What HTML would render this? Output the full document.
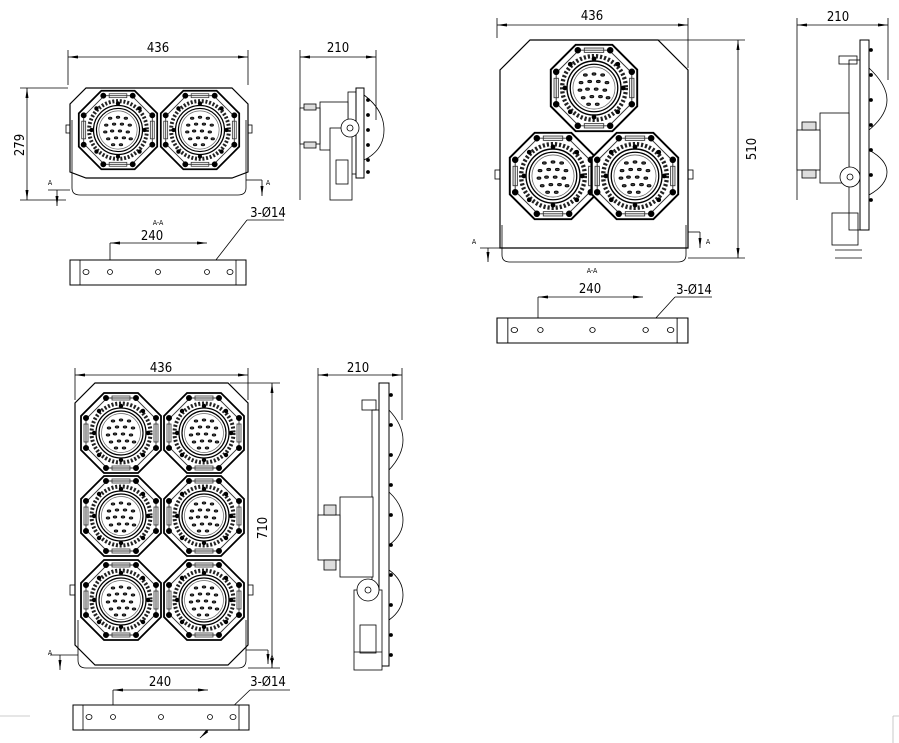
<!DOCTYPE html>
<html><head><meta charset="utf-8"><style>
html,body{margin:0;padding:0;background:#fff;}
svg{display:block;font-family:"DejaVu Sans Condensed","Liberation Sans",sans-serif;}
</style></head><body>
<svg width="899" height="743" viewBox="0 0 899 743" xmlns="http://www.w3.org/2000/svg">
<defs>
<marker id="ar" viewBox="0 0 10 6" refX="10" refY="3" markerWidth="10" markerHeight="6" orient="auto-start-reverse" markerUnits="userSpaceOnUse"><path d="M0,1.5 L10,3 L0,4.5z" fill="#000"/></marker>
<g id="m">
<polygon points="-17,-40 17,-40 40,-17 40,17 17,40 -17,40 -40,17 -40,-17" fill="#fff" stroke="#000" stroke-width="1.8"/>
<polygon points="-14,-35 14,-35 35,-14 35,14 14,35 -14,35 -35,14 -35,-14" fill="none" stroke="#333" stroke-width="0.9"/>
<circle r="29.5" fill="none" stroke="#222" stroke-width="4" stroke-dasharray="2 1.8"/>
<circle r="25" fill="none" stroke="#000" stroke-width="1.3"/>
<circle r="22" fill="#fff" stroke="#000" stroke-width="1.2"/>
<circle r="19.5" fill="none" stroke="#666" stroke-width="0.7"/>
<g fill="#444">
<ellipse cx="-8" cy="-12" rx="1.8" ry="1.1"/><ellipse cx="0" cy="-13" rx="1.8" ry="1.1"/><ellipse cx="8" cy="-12" rx="1.8" ry="1.1"/>
<ellipse cx="-12" cy="-5" rx="1.8" ry="1.1"/><ellipse cx="-4" cy="-6" rx="1.8" ry="1.1"/><ellipse cx="4" cy="-6" rx="1.8" ry="1.1"/><ellipse cx="12" cy="-5" rx="1.8" ry="1.1"/>
<ellipse cx="-13" cy="2" rx="1.8" ry="1.1"/><ellipse cx="-6" cy="1" rx="1.8" ry="1.1"/><ellipse cx="2" cy="1" rx="1.8" ry="1.1"/><ellipse cx="10" cy="2" rx="1.8" ry="1.1"/>
<ellipse cx="-10" cy="9" rx="1.8" ry="1.1"/><ellipse cx="-2" cy="8" rx="1.8" ry="1.1"/><ellipse cx="6" cy="8" rx="1.8" ry="1.1"/><ellipse cx="13" cy="9" rx="1.8" ry="1.1"/>
<ellipse cx="-5" cy="15" rx="1.8" ry="1.1"/><ellipse cx="3" cy="15" rx="1.8" ry="1.1"/>
</g>
<g fill="none" stroke="#333" stroke-width="0.8">
<rect x="-9" y="-37" width="18" height="4"/><rect x="-9" y="33" width="18" height="4"/>
<rect x="-37" y="-9" width="4" height="18"/><rect x="33" y="-9" width="4" height="18"/>
</g>
<g fill="#000">
<circle cx="-15" cy="-35" r="2.6"/><circle cx="15" cy="-35" r="2.6"/><circle cx="-15" cy="35" r="2.6"/><circle cx="15" cy="35" r="2.6"/>
<circle cx="-35" cy="-15" r="2.6"/><circle cx="-35" cy="15" r="2.6"/><circle cx="35" cy="-15" r="2.6"/><circle cx="35" cy="15" r="2.6"/>
<circle cx="-22" cy="-22" r="1.8"/><circle cx="22" cy="-22" r="1.8"/><circle cx="-22" cy="22" r="1.8"/><circle cx="22" cy="22" r="1.8"/>
<circle cx="0" cy="-27" r="1.8"/><circle cx="0" cy="27" r="1.8"/><circle cx="-27" cy="0" r="1.8"/><circle cx="27" cy="0" r="1.8"/>
</g>
</g>
<g id="bar">
<rect x="0" y="0" width="176" height="25" fill="#fff" stroke="#000" stroke-width="1"/>
<line x1="10" y1="0" x2="10" y2="25" stroke="#000" stroke-width="0.8"/><line x1="166" y1="0" x2="166" y2="25" stroke="#000" stroke-width="0.8"/>
<ellipse cx="16" cy="12" rx="3" ry="2.5" fill="none" stroke="#000" stroke-width="0.8"/><ellipse cx="160" cy="12" rx="3" ry="2.5" fill="none" stroke="#000" stroke-width="0.8"/>
<circle cx="40" cy="12" r="2.5" fill="none" stroke="#000" stroke-width="0.8"/><circle cx="88" cy="12" r="2.5" fill="none" stroke="#000" stroke-width="0.8"/><circle cx="137" cy="12" r="2.5" fill="none" stroke="#000" stroke-width="0.8"/>
</g>
</defs>
<g stroke="#000" fill="none" stroke-width="0.8">

<polygon points="86,88 232,88 248,104 248,172 232,178 86,178 70,172 70,104" stroke-width="1.2"/>
<path d="M72,120 V188 Q72,195 80,195 H238 Q246,195 246,188 V120" />
<rect x="66" y="125" width="4" height="8"/><rect x="248" y="125" width="4" height="8"/>
<use href="#m" transform="translate(118,130) scale(0.98)"/>
<use href="#m" transform="translate(200,130) scale(0.98)"/>
<line x1="68" y1="85" x2="68" y2="50"/><line x1="248" y1="85" x2="248" y2="50"/>
<line x1="68" y1="57" x2="248" y2="57" marker-start="url(#ar)" marker-end="url(#ar)"/>
<line x1="20" y1="88" x2="68" y2="88"/><line x1="20" y1="200" x2="66" y2="200"/>
<line x1="27" y1="88" x2="27" y2="200" marker-start="url(#ar)" marker-end="url(#ar)"/>
<line x1="48" y1="190" x2="70" y2="190"/><line x1="57" y1="190" x2="57" y2="206" marker-end="url(#ar)"/>
<line x1="246" y1="180" x2="262" y2="180"/><line x1="262" y1="180" x2="262" y2="196" marker-end="url(#ar)"/>
<line x1="110" y1="243" x2="110" y2="272"/>
<line x1="110" y1="243" x2="207" y2="243" marker-start="url(#ar)" marker-end="url(#ar)"/>
<line x1="284" y1="220" x2="247" y2="220"/><line x1="247" y1="220" x2="198" y2="283" marker-end="url(#ar)"/>
<use href="#bar" transform="translate(70,260)"/>
<line x1="300" y1="50" x2="300" y2="200"/><line x1="376" y1="50" x2="376" y2="120"/>
<line x1="300" y1="57" x2="376" y2="57" marker-start="url(#ar)" marker-end="url(#ar)"/>
<rect x="356" y="88" width="8" height="90" stroke-width="1"/>
<rect x="348" y="92" width="8" height="82"/>
<path d="M364,95 Q384,110 384,130 Q384,150 364,160" />
<rect x="320" y="102" width="28" height="48" fill="#fff"/>
<rect x="300" y="108" width="20" height="36" fill="#fff"/>
<rect x="304" y="104" width="12" height="6" fill="#ddd"/><rect x="304" y="142" width="12" height="6" fill="#ddd"/>
<rect x="330" y="128" width="22" height="72" fill="#fff"/>
<rect x="336" y="160" width="12" height="24"/>
<circle cx="350" cy="128" r="9" fill="#fff"/><circle cx="350" cy="128" r="3"/>
<g fill="#000"><circle cx="368" cy="100" r="1.5"/><circle cx="368" cy="115" r="1.5"/><circle cx="368" cy="130" r="1.5"/><circle cx="368" cy="145" r="1.5"/><circle cx="368" cy="160" r="1.5"/><circle cx="368" cy="172" r="1.5"/></g>

<polygon points="530,40 658,40 688,70 688,248 500,248 500,70" stroke-width="1.2"/>
<path d="M502,225 V255 Q502,262 510,262 H678 Q686,262 686,255 V225"/>
<rect x="495" y="170" width="5" height="9"/><rect x="688" y="170" width="5" height="9"/>
<use href="#m" transform="translate(594,88) scale(1.08)"/>
<use href="#m" transform="translate(553,176) scale(1.08)"/>
<use href="#m" transform="translate(635,176) scale(1.08)"/>
<line x1="497" y1="38" x2="497" y2="18"/><line x1="688" y1="68" x2="688" y2="18"/>
<line x1="497" y1="25" x2="688" y2="25" marker-start="url(#ar)" marker-end="url(#ar)"/>
<line x1="658" y1="40" x2="745" y2="40"/><line x1="688" y1="258" x2="745" y2="258"/>
<line x1="738" y1="40" x2="738" y2="258" marker-start="url(#ar)" marker-end="url(#ar)"/>
<line x1="480" y1="248" x2="500" y2="248"/><line x1="488" y1="248" x2="488" y2="262" marker-end="url(#ar)"/>
<line x1="688" y1="232" x2="700" y2="232"/><line x1="700" y1="232" x2="700" y2="248" marker-end="url(#ar)"/>
<line x1="538" y1="297" x2="538" y2="330"/>
<line x1="538" y1="297" x2="643" y2="297" marker-start="url(#ar)" marker-end="url(#ar)"/>
<line x1="712" y1="297" x2="675" y2="297"/><line x1="675" y1="297" x2="633" y2="343" marker-end="url(#ar)"/>
<use href="#bar" transform="translate(497,318) scale(1.085,1)"/>
<line x1="797" y1="18" x2="797" y2="200"/><line x1="888" y1="18" x2="888" y2="80"/>
<line x1="797" y1="25" x2="888" y2="25" marker-start="url(#ar)" marker-end="url(#ar)"/>
<rect x="860" y="40" width="9" height="190" stroke-width="1"/>
<rect x="849" y="60" width="11" height="170"/>
<path d="M869,68 Q887,85 887,100 Q887,115 869,130"/>
<path d="M869,150 Q887,160 887,172 Q887,185 869,195"/>
<rect x="820" y="113" width="29" height="70" fill="#fff"/>
<rect x="797" y="130" width="23" height="40" fill="#fff"/>
<rect x="802" y="122" width="14" height="8" fill="#ddd"/><rect x="802" y="170" width="14" height="8" fill="#ddd"/>
<circle cx="850" cy="177" r="10" fill="#fff"/><circle cx="850" cy="177" r="3"/>
<rect x="839" y="56" width="18" height="8"/>
<rect x="832" y="213" width="26" height="32"/>
<line x1="835" y1="250" x2="862" y2="250"/><line x1="835" y1="258" x2="862" y2="258"/>
<g fill="#000"><circle cx="871" cy="50" r="1.5"/><circle cx="871" cy="75" r="1.5"/><circle cx="871" cy="100" r="1.5"/><circle cx="871" cy="125" r="1.5"/><circle cx="871" cy="150" r="1.5"/><circle cx="871" cy="175" r="1.5"/><circle cx="871" cy="200" r="1.5"/></g>

<polygon points="95,383 228,383 248,403 248,645 228,665 95,665 75,645 75,403" stroke-width="1.2"/>
<path d="M78,620 V660 Q78,668 86,668 H238 Q246,668 246,660 V620"/>
<rect x="70" y="585" width="5" height="10"/><rect x="248" y="585" width="5" height="10"/>
<use href="#m" transform="translate(121,433)"/>
<use href="#m" transform="translate(204,433)"/>
<use href="#m" transform="translate(121,516)"/>
<use href="#m" transform="translate(204,516)"/>
<use href="#m" transform="translate(121,600)"/>
<use href="#m" transform="translate(204,600)"/>
<line x1="75" y1="400" x2="75" y2="368"/><line x1="248" y1="400" x2="248" y2="368"/>
<line x1="75" y1="375" x2="248" y2="375" marker-start="url(#ar)" marker-end="url(#ar)"/>
<line x1="230" y1="383" x2="280" y2="383"/><line x1="248" y1="668" x2="280" y2="668"/>
<line x1="272" y1="383" x2="272" y2="668" marker-start="url(#ar)" marker-end="url(#ar)"/>
<line x1="50" y1="655" x2="78" y2="655"/><line x1="60" y1="655" x2="60" y2="670" marker-end="url(#ar)"/>
<line x1="246" y1="650" x2="268" y2="650"/><line x1="268" y1="650" x2="268" y2="664" marker-end="url(#ar)"/>
<line x1="113" y1="690" x2="113" y2="720"/>
<line x1="113" y1="690" x2="208" y2="690" marker-start="url(#ar)" marker-end="url(#ar)"/>
<line x1="290" y1="690" x2="250" y2="690"/><line x1="250" y1="690" x2="200" y2="738" marker-end="url(#ar)"/>
<use href="#bar" transform="translate(73,705)"/>
<line x1="318" y1="368" x2="318" y2="550"/><line x1="402" y1="368" x2="402" y2="420"/>
<line x1="318" y1="375" x2="402" y2="375" marker-start="url(#ar)" marker-end="url(#ar)"/>
<rect x="379" y="383" width="10" height="283" stroke-width="1"/>
<rect x="372" y="410" width="7" height="240"/>
<path d="M389,410 Q403,425 403,440 Q403,455 389,470"/>
<path d="M389,492 Q403,505 403,520 Q403,535 389,545"/>
<path d="M389,570 Q403,580 403,595 Q403,610 389,620"/>
<rect x="362" y="400" width="14" height="10"/>
<rect x="340" y="497" width="33" height="80" fill="#fff"/>
<rect x="318" y="515" width="22" height="45" fill="#fff"/>
<rect x="324" y="505" width="12" height="10" fill="#ddd"/><rect x="324" y="560" width="12" height="10" fill="#ddd"/>
<rect x="354" y="590" width="28" height="80" fill="#fff"/>
<rect x="360" y="625" width="16" height="28"/>
<line x1="354" y1="652" x2="382" y2="652"/>
<circle cx="368" cy="590" r="11" fill="#fff"/><circle cx="368" cy="590" r="3"/>
<g fill="#000"><circle cx="391" cy="395" r="1.5"/><circle cx="391" cy="425" r="1.5"/><circle cx="391" cy="455" r="1.5"/><circle cx="391" cy="485" r="1.5"/><circle cx="391" cy="515" r="1.5"/><circle cx="391" cy="545" r="1.5"/><circle cx="391" cy="575" r="1.5"/><circle cx="391" cy="605" r="1.5"/><circle cx="391" cy="635" r="1.5"/><circle cx="391" cy="655" r="1.5"/></g>

<line x1="0" y1="716" x2="30" y2="716" stroke="#bbb"/>
<path d="M893,716 H899 M893,716 V743" stroke="#bbb"/>
</g>
<g fill="#000" font-size="13" text-anchor="middle">
<text x="158" y="52">436</text>
<text x="338" y="52">210</text>
<text x="20" y="145" transform="rotate(-90 20 145)" dy="4">279</text>
<text x="152" y="240">240</text>
<text x="268" y="217">3-Ø14</text>
<text x="592" y="20">436</text>
<text x="838" y="21">210</text>
<text x="752" y="149" transform="rotate(-90 752 149)" dy="4">510</text>
<text x="590" y="293">240</text>
<text x="694" y="294">3-Ø14</text>
<text x="161" y="372">436</text>
<text x="358" y="372">210</text>
<text x="263" y="528" transform="rotate(-90 263 528)" dy="4">710</text>
<text x="160" y="686">240</text>
<text x="268" y="686">3-Ø14</text>
</g>
<g fill="#000" font-size="7" text-anchor="middle">
<text x="158" y="225">A-A</text>
<text x="592" y="273">A-A</text>
<text x="50" y="185">A</text><text x="268" y="185">A</text>
<text x="474" y="244">A</text><text x="708" y="244">A</text>
<text x="50" y="655">A</text><text x="272" y="660">A</text>
</g>
</svg>
</body></html>
